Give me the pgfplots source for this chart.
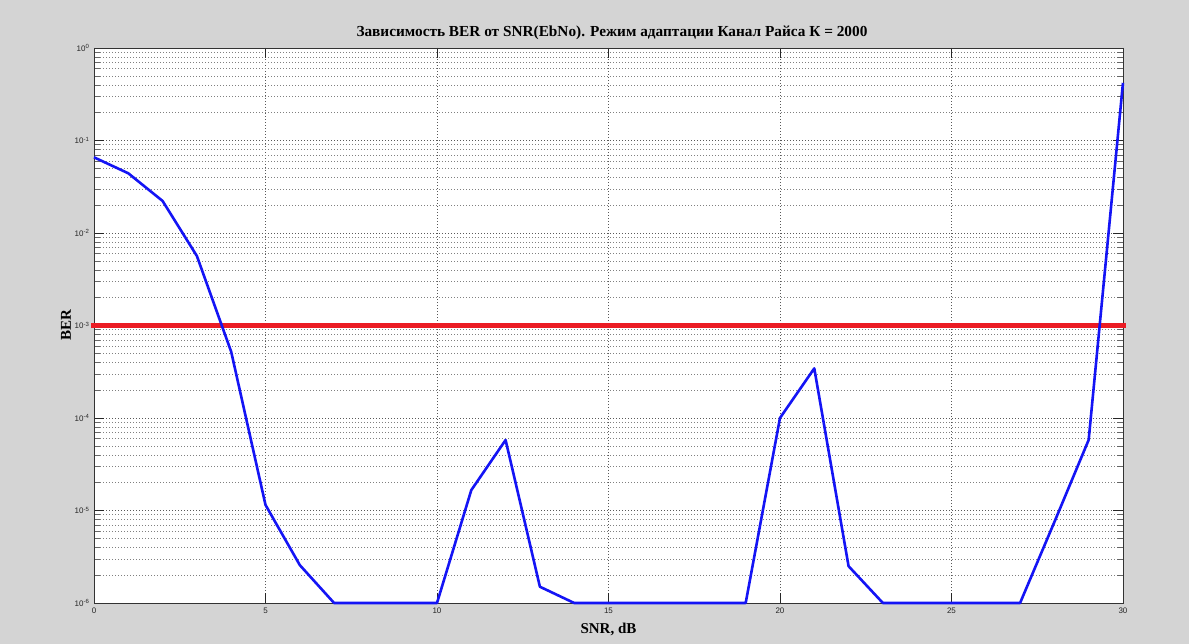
\documentclass[border=0pt]{standalone}
\usepackage{pgfplots}
\pgfplotsset{compat=1.18}
\usepackage{fontspec}
\setmainfont{Liberation Serif}
\newfontfamily\tickfont{Liberation Sans}
\definecolor{figbg}{RGB}{212,212,212}
\definecolor{berblue}{RGB}{20,20,245}
\definecolor{thrred}{RGB}{235,28,36}
\pgfplotstableread{
x y
0 0.0658
1 0.0442
2 0.0222
3 0.00564
4 5.2e-4
5 1.15e-5
6 2.57e-6
7 1e-6
8 1e-6
9 1e-6
10 1e-6
11 1.66e-5
12 5.78e-5
13 1.5e-6
14 1e-6
15 1e-6
16 1e-6
17 1e-6
18 1e-6
19 1e-6
20 1.0e-4
21 3.44e-4
22 2.5e-6
23 1e-6
24 1e-6
25 1e-6
26 1e-6
27 1e-6
28 7.5e-6
29 5.8e-5
30 0.42
}\berdata
\begin{document}
\begin{tikzpicture}[x=1pt,y=1pt]
\fill[figbg] (0,0) rectangle (1189,644);
\useasboundingbox (0,0) rectangle (1189,644);
\begin{axis}[
  at={(94pt,41pt)}, anchor=south west,
  scale only axis, width=1029pt, height=555pt,
  ymode=log, xmin=0, xmax=30, ymin=1e-6, ymax=1,
  axis background/.style={fill=white},
  axis line style={black!80, line width=0.8pt},
  xtick={0,5,10,15,20,25,30},
  xticklabels={0,5,10,15,20,25,30},
  ytick={1e-6,1e-5,1e-4,1e-3,1e-2,1e-1,1},
  yticklabels={10\textsuperscript{-6},10\textsuperscript{-5},10\textsuperscript{-4},10\textsuperscript{-3},10\textsuperscript{-2},10\textsuperscript{-1},10\textsuperscript{0}},
  minor ytick={2e-6,3e-6,4e-6,5e-6,6e-6,7e-6,8e-6,9e-6,
               2e-5,3e-5,4e-5,5e-5,6e-5,7e-5,8e-5,9e-5,
               2e-4,3e-4,4e-4,5e-4,6e-4,7e-4,8e-4,9e-4,
               2e-3,3e-3,4e-3,5e-3,6e-3,7e-3,8e-3,9e-3,
               2e-2,3e-2,4e-2,5e-2,6e-2,7e-2,8e-2,9e-2,
               0.2,0.3,0.4,0.5,0.6,0.7,0.8,0.9},
  tick align=inside,
  major tick length=10pt, minor tick length=6pt,
  tick style={black!85, line width=0.6pt},
  minor tick style={black!60, line width=0.6pt},
  grid=both,
  major grid style={black!65, line width=0.6pt, dash pattern=on 0.7pt off 2.3pt},
  minor grid style={black!50, line width=0.6pt, dash pattern=on 0.7pt off 2.3pt},
  tick label style={font=\tickfont\fontsize{8}{9}\selectfont, black!85},
  xticklabel style={yshift=-1pt},
  yticklabel style={xshift=-1pt},
  title={Зависимость BER от SNR(EbNo). Режим адаптации Канал Райса К = 2000},
  title style={font=\bfseries\fontsize{15.3}{17}\selectfont, at={(axis description cs:0.5,1)}, anchor=base, yshift=5pt, xshift=3.5pt},
  xlabel={SNR, dB},
  xlabel style={font=\bfseries\fontsize{15}{17}\selectfont, at={(axis description cs:0.5,0)}, anchor=base, yshift=-30pt},
  ylabel={BER},
  ylabel style={font=\bfseries\fontsize{15}{17}\selectfont, at={(axis description cs:0,0.5)}, anchor=center, yshift=28pt},
  clip=false,
]
\addplot[thrred, line width=4.5pt] coordinates {(-0.08,1e-3) (30.08,1e-3)};
\addplot[berblue, line width=2.6pt, line join=round] table[x=x, y=y] {\berdata};
\end{axis}
\end{tikzpicture}
\end{document}
